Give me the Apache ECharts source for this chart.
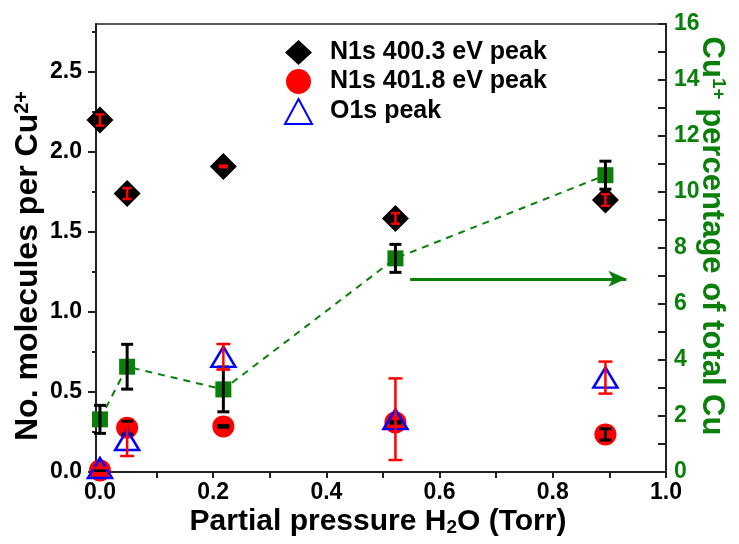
<!DOCTYPE html>
<html>
<head>
<meta charset="utf-8">
<script src="https://cdn.jsdelivr.net/npm/echarts@6/dist/echarts.min.js"></script>
<style>
html, body { margin: 0; background: #fff; }
#chart { width: 739px; height: 544px; }
</style>
</head>
<body>
<div id="chart"></div>
<script>
// partial pressure of H2O (Torr)
const pressure = [0, 0.048, 0.218, 0.522, 0.893];

// molecules per Cu2+ (left axis)
const n4003 = [2.20, 1.74, 1.91, 1.585, 1.70];
const n4003Err = [0.035, 0.034, 0.005, 0.033, 0.036];
const n4018 = [0.01, 0.277, 0.285, 0.31, 0.235];
const n4018Err = [0, 0.04, 0.005, 0.005, 0.035];
const o1s = [0.025, 0.2, 0.72, 0.33, 0.59];
const o1sErr = [0, 0.1, 0.08, 0.255, 0.1];

// Cu1+ percentage of total Cu (right axis)
const cu1 = [1.88, 3.76, 2.95, 7.63, 10.6];
const cu1Err = [0.5, 0.8, 0.8, 0.5, 0.5];

// tick labels
const xTicks = [0, 0.1, 0.2, 0.3, 0.4, 0.5, 0.6, 0.7, 0.8, 0.9, 1.0];
const xLabels = [0, 0.2, 0.4, 0.6, 0.8, 1.0];
const leftLabels = [0, 0.5, 1.0, 1.5, 2.0, 2.5];
const leftMinor = [0.25, 0.75, 1.25, 1.75, 2.25, 2.75];

// arrow pointing to the right axis
const arrowFrom = [0.548, 6.9];
const arrowTo = [0.93, 6.9];

const FONT = "'Liberation Sans', Arial, sans-serif";
const GREEN = '#0a800a';

const pairs = (ys) => pressure.map((x, i) => [x, ys[i]]);

// error bars as custom series
function errorBars(ys, es, color, cap, width, yAxisIndex, z) {
    return {
        type: 'custom',
        yAxisIndex: yAxisIndex,
        z: z,
        silent: true,
        data: pressure.map((x, i) => [x, ys[i] - es[i], ys[i] + es[i]]),
        encode: { x: 0, y: [1, 2] },
        renderItem: (params, api) => {
            const lo = api.coord([api.value(0), api.value(1)]);
            const hi = api.coord([api.value(0), api.value(2)]);
            const style = { stroke: color, lineWidth: width };
            return {
                type: 'group',
                children: [
                    { type: 'line', shape: { x1: lo[0], y1: lo[1], x2: hi[0], y2: hi[1] }, style: style },
                    { type: 'line', shape: { x1: lo[0] - cap / 2, y1: lo[1], x2: lo[0] + cap / 2, y2: lo[1] }, style: style },
                    { type: 'line', shape: { x1: hi[0] - cap / 2, y1: hi[1], x2: hi[0] + cap / 2, y2: hi[1] }, style: style },
                ],
            };
        },
    };
}

const chart = echarts.init(document.getElementById('chart'));

const tickLabel = { color: '#000', fontSize: 23, fontWeight: 'bold', fontFamily: FONT };

chart.setOption({
    animation: false,
    backgroundColor: '#fff',
    grid: {
        left: 96, right: 73, top: 24, bottom: 72,
        show: true, borderColor: '#222', borderWidth: 1.5,
    },
    legend: {
        orient: 'vertical',
        left: 279,
        top: 35,
        itemWidth: 27,
        itemHeight: 25,
        itemGap: 4,
        textStyle: {
            color: '#000', fontSize: 25, fontWeight: 'bold', fontFamily: FONT,
            padding: [0, 0, 0, 13],
        },
        data: ['N1s 400.3 eV peak', 'N1s 401.8 eV peak', 'O1s peak'],
    },
    xAxis: {
        type: 'value',
        min: -0.007,
        max: 1.0,
        splitLine: { show: false },
        axisLine: { lineStyle: { color: '#222', width: 2 } },
        axisTick: { customValues: xTicks, length: 6, lineStyle: { color: '#222', width: 2 } },
        axisLabel: Object.assign({ customValues: xLabels, margin: 9, formatter: v => v.toFixed(1) }, tickLabel),
    },
    yAxis: [
        {
            type: 'value',
            position: 'left',
            min: 0,
            max: 2.8,
            splitLine: { show: false },
            axisLine: { show: true, onZero: false, lineStyle: { color: '#222', width: 2 } },
            axisTick: { customValues: leftLabels, length: 8, lineStyle: { color: '#222', width: 2 } },
            axisLabel: Object.assign({ customValues: leftLabels, margin: 14, formatter: v => v.toFixed(1) }, tickLabel),
        },
        {
            type: 'value',
            position: 'right',
            min: 0,
            max: 16,
            interval: 1,
            splitLine: { show: false },
            axisLine: { show: true, onZero: false, lineStyle: { color: '#222', width: 2 } },
            axisTick: { inside: true, length: 8, lineStyle: { color: '#222', width: 2 } },
            axisLabel: Object.assign({}, tickLabel, {
                color: GREEN, margin: 8,
                formatter: v => (v % 2 === 0 ? String(v) : ''),
            }),
        },
        {
            // minor ticks of the left axis
            type: 'value',
            position: 'left',
            min: 0,
            max: 2.8,
            splitLine: { show: false },
            axisLine: { show: false, onZero: false },
            axisTick: { customValues: leftMinor, length: 4, lineStyle: { color: '#222', width: 2 } },
            axisLabel: { show: false },
        },
    ],
    graphic: [
        {
            type: 'text',
            x: 28, y: 266, rotation: Math.PI / 2,
            style: {
                text: '{a|No. molecules per Cu}{s|2+}',
                align: 'center', verticalAlign: 'middle',
                rich: {
                    a: { fontSize: 32, fontWeight: 'bold', fontFamily: FONT, fill: '#000' },
                    s: { fontSize: 20, fontWeight: 'bold', fontFamily: FONT, fill: '#000', verticalAlign: 'top' },
                },
            },
        },
        {
            type: 'text',
            x: 712, y: 236, rotation: -Math.PI / 2,
            style: {
                text: '{a|Cu}{s|1+}{a| percentage of total Cu}',
                align: 'center', verticalAlign: 'middle',
                rich: {
                    a: { fontSize: 31, fontWeight: 'bold', fontFamily: FONT, fill: GREEN },
                    s: { fontSize: 19, fontWeight: 'bold', fontFamily: FONT, fill: GREEN, verticalAlign: 'top' },
                },
            },
        },
        {
            type: 'text',
            x: 378, y: 522,
            style: {
                text: '{a|Partial pressure H}{s|2}{a|O (Torr)}',
                align: 'center', verticalAlign: 'middle',
                rich: {
                    a: { fontSize: 30, fontWeight: 'bold', fontFamily: FONT, fill: '#000' },
                    s: { fontSize: 19, fontWeight: 'bold', fontFamily: FONT, fill: '#000', verticalAlign: 'bottom' },
                },
            },
        },
    ],
    series: [
        {
            name: 'Cu1+',
            type: 'line',
            yAxisIndex: 1,
            z: 2,
            data: pairs(cu1),
            symbol: 'rect',
            symbolSize: 16,
            showAllSymbol: true,
            itemStyle: { color: GREEN },
            lineStyle: { color: GREEN, width: 2, type: [7, 6] },
            markLine: {
                silent: true,
                symbol: ['none', 'arrow'],
                symbolSize: [12, 18],
                label: { show: false },
                lineStyle: { color: GREEN, width: 3, type: 'solid' },
                data: [[{ coord: arrowFrom }, { coord: arrowTo }]],
            },
        },
        errorBars(cu1, cu1Err, '#000', 12, 3, 1, 3),
        {
            name: 'N1s 401.8 eV peak',
            type: 'scatter',
            z: 4,
            data: pairs(n4018),
            symbol: 'circle',
            symbolSize: 22,
            itemStyle: { color: '#ff0000', opacity: 1 },
        },
        errorBars(n4018, n4018Err, '#000', 12, 3, 0, 5),
        {
            name: 'O1s peak',
            type: 'scatter',
            z: 6,
            data: pairs(o1s),
            symbol: 'triangle',
            symbolSize: [24, 20],
            itemStyle: { color: 'rgba(255,255,255,0)', borderColor: '#0000ff', borderWidth: 2.5, opacity: 1 },
        },
        errorBars(o1s, o1sErr, '#ff0000', 14, 2.5, 0, 7),
        {
            name: 'N1s 400.3 eV peak',
            type: 'scatter',
            z: 8,
            data: pairs(n4003),
            symbol: 'diamond',
            symbolSize: 27,
            itemStyle: { color: '#000', opacity: 1 },
        },
        errorBars(n4003, n4003Err, '#ff0000', 9, 2.5, 0, 9),
    ],
});
</script>
</body>
</html>
